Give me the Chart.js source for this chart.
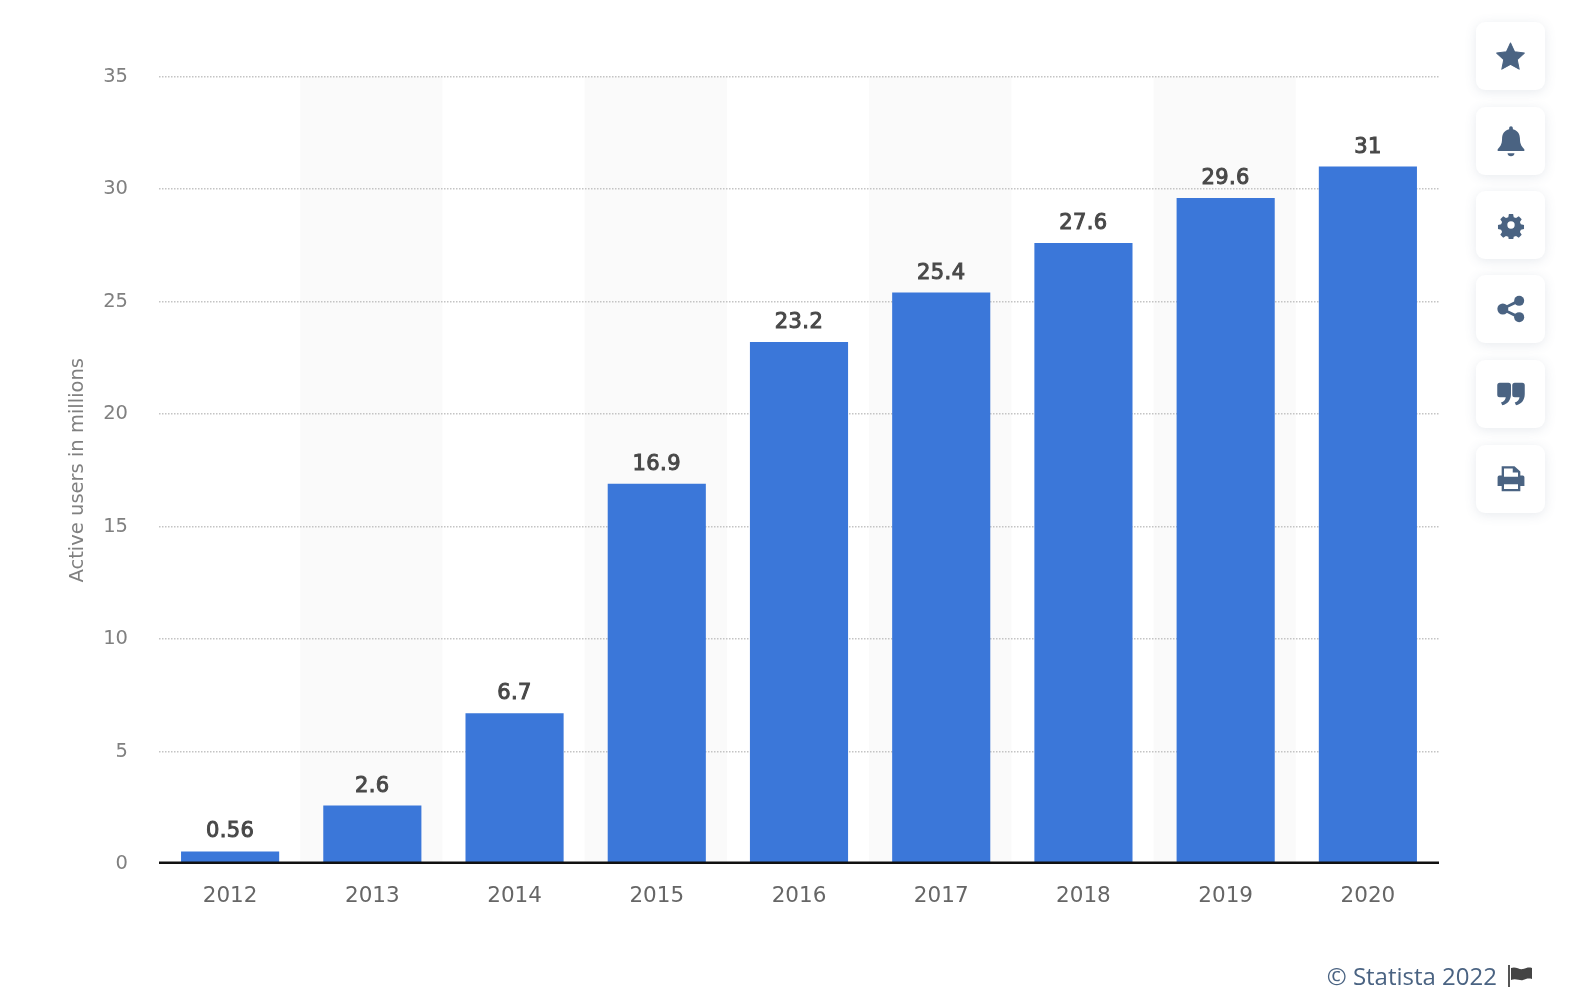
<!DOCTYPE html>
<html>
<head>
<meta charset="utf-8">
<script src="https://cdn.jsdelivr.net/npm/chart.js@4"></script>
<style>
  html, body { margin: 0; padding: 0; background: #fff; overflow: hidden; }
  #wrap { position: relative; width: 1570px; height: 1002px; }
  #chart { position: absolute; left: 0; top: 0; }
  .btn {
    position: absolute; left: 1476px; width: 69px; height: 68px;
    background: #fff; border-radius: 9px;
    box-shadow: 0 2px 12px rgba(70, 90, 120, 0.13);
    display: flex; align-items: center; justify-content: center;
  }
  .btn svg { width: 28px; height: 28px; fill: #4a6382; }
  #credit {
    position: absolute; right: 73px; top: 961px;
    font: 24px "Open Sans", sans-serif; color: #4a6382;
    line-height: 30px;
  }
  #flag { position: absolute; left: 1508px; top: 965px; width: 26px; height: 22px; }
</style>
</head>
<body>
<div id="wrap">
  <canvas id="chart" width="1570" height="1002"></canvas>

  <div class="btn" style="top:22px"><svg style="width:31px;height:31px" viewBox="0 0 24 24"><path stroke="#4a6382" stroke-width="0.8" stroke-linejoin="round" d="M12 1.5l3.2 6.9 7.5.9-5.5 5.1 1.5 7.4L12 18.1l-6.7 3.700 1.500-7.400L1.300 9.300l7.500-.9z"/></svg></div>
  <div class="btn" style="top:107px"><svg style="width:32px;height:32px" viewBox="0 0 24 24"><path d="M12 1c.8 0 1.400.6 1.400 1.400v.7c3.400.7 5.300 3.500 5.300 7 0 4.600 1.500 6 3.300 8v1.400H2v-1.400c1.800-2 3.300-3.400 3.300-8 0-3.500 1.900-6.300 5.300-7v-.7C10.600 1.600 11.200 1 12 1zM9.400 21.200h5.200c0 1.400-1.200 2.300-2.600 2.300s-2.600-.9-2.600-2.300z"/></svg></div>
  <div class="btn" style="top:191px"><svg viewBox="0 0 24 24"><path fill-rule="evenodd" d="M10 1.500h4l.6 3 2.200.9 2.600-1.700 2.800 2.800-1.700 2.600.9 2.200 3 .6v4l-3 .6-.9 2.200 1.700 2.600-2.800 2.800-2.600-1.700-2.200.9-.6 3h-4l-.6-3-2.200-.9-2.600 1.700-2.800-2.800 1.700-2.600-.9-2.200-3-.6v-4l3-.6.9-2.200-1.700-2.600 2.800-2.800 2.600 1.700 2.200-.9zM12 8.500a3.500 3.500 0 1 0 0 7 3.500 3.500 0 0 0 0-7z" transform="translate(1.200 1.200) scale(.9)"/></svg></div>
  <div class="btn" style="top:275px"><svg viewBox="0 0 24 24"><circle cx="19" cy="5" r="4.300"/><circle cx="19" cy="19" r="4.300"/><circle cx="5" cy="12" r="4.700"/><path d="M5 10.500L18 3.800l1.200 2.400L7 12l12.200 5.800-1.200 2.400L5 13.500z"/></svg></div>
  <div class="btn" style="top:360px"><svg style="width:30px;height:30px" viewBox="0 0 24 24"><path d="M3 3h7a2 2 0 0 1 2 2v7c0 4.800-2.500 8-7 9l-1-2.300c2.300-.7 3.600-2 3.800-4.200H3a2 2 0 0 1-2-2V5a2 2 0 0 1 2-2zM15 3h6a2 2 0 0 1 2 2v7c0 4.800-2.500 8-7 9l-1-2.300c2.300-.7 3.600-2 3.800-4.200H15a2 2 0 0 1-2-2V5a2 2 0 0 1 2-2z"/></svg></div>
  <div class="btn" style="top:445px"><svg viewBox="0 0 24 24"><path fill-rule="evenodd" d="M4 1h11l5 4.500V9h2a1.500 1.500 0 0 1 1.500 1.500V18H20v4.500H4V18H.5v-7.500A1.500 1.500 0 0 1 2 9h2zM6 3v7h12V6.500h-4.500V3zM6 16.500v4h12v-4z"/></svg></div>

  <div id="credit">© Statista 2022</div>
  <svg id="flag" viewBox="0 0 26 22"><rect x="0" y="0" width="2" height="22" fill="#555"/><path d="M3 3c5-2 8 2 12 1s5-2 9-1v11c-4-1-6 0-9 1s-7-2-12 0z" fill="#444"/></svg>
</div>

<script>
const years = ["2012", "2013", "2014", "2015", "2016", "2017", "2018", "2019", "2020"];
const activeUsers = [0.56, 2.6, 6.7, 16.9, 23.2, 25.4, 27.6, 29.6, 31];
const valueLabels = ["0.56", "2.6", "6.7", "16.9", "23.2", "25.4", "27.6", "29.6", "31"];

const BAR_COLOR = "#3b77d9";
const BAND_COLOR = "#fafafa";
const GRID_COLOR = "#c4c4c4";

// every second category gets a pale band behind the bars
const bandsPlugin = {
  id: "bands",
  beforeDraw(chart) {
    const { ctx, chartArea, scales } = chart;
    const half = (scales.x.getPixelForValue(1) - scales.x.getPixelForValue(0)) / 2;
    ctx.save();
    ctx.fillStyle = BAND_COLOR;
    years.forEach((year, i) => {
      if (i % 2 === 0) return;
      const x = scales.x.getPixelForValue(i);
      ctx.fillRect(x - half - 1, chartArea.top, half * 2, chartArea.bottom - chartArea.top);
    });
    ctx.restore();
  },
};

// value labels and the heavy baseline go on top of the bars
const labelsPlugin = {
  id: "valueLabels",
  afterDatasetsDraw(chart) {
    const { ctx, chartArea, scales } = chart;
    const meta = chart.getDatasetMeta(0);
    ctx.save();
    // the labels are a heavier regular cut, not the wide bold
    ctx.font = '21px "DejaVu Sans"';
    ctx.letterSpacing = "0.4px";
    ctx.fillStyle = "#484848";
    ctx.strokeStyle = "#484848";
    ctx.lineWidth = 1;
    ctx.textAlign = "center";
    ctx.textBaseline = "alphabetic";
    meta.data.forEach((bar, i) => {
      ctx.fillText(valueLabels[i], bar.x, bar.y - 14);
      ctx.strokeText(valueLabels[i], bar.x, bar.y - 14);
    });
    const y0 = scales.y.getPixelForValue(0) - 1.2;
    ctx.strokeStyle = "#111";
    ctx.lineWidth = 2.4;
    ctx.beginPath();
    ctx.moveTo(chartArea.left, y0);
    ctx.lineTo(chartArea.right, y0);
    ctx.stroke();
    ctx.restore();
  },
};

new Chart(document.getElementById("chart"), {
  type: "bar",
  data: {
    labels: years,
    datasets: [{
      data: activeUsers,
      backgroundColor: BAR_COLOR,
      barPercentage: 0.69,
      categoryPercentage: 1,
    }],
  },
  plugins: [bandsPlugin, labelsPlugin],
  options: {
    responsive: false,
    animation: false,
    layout: { padding: { top: 76.5, right: 131, bottom: 0, left: 0 } },
    plugins: { legend: { display: false }, tooltip: { enabled: false } },
    scales: {
      x: {
        afterFit(scale) { scale.height = 1002 - 864; },
        grid: { display: false },
        border: { display: false },
        ticks: { color: "#666", padding: 12, maxRotation: 0, font: { family: "DejaVu Sans", size: 21.5 } },
      },
      y: {
        min: 0,
        max: 35,
        afterFit(scale) { scale.width = 159; },
        grid: {
          color: (c) => (c.tick.value === 0 ? "transparent" : GRID_COLOR),
          lineWidth: 1.5,
          drawTicks: false,
        },
        border: { display: false, dash: [1.5, 1.5] },
        ticks: { stepSize: 5, color: "#808080", padding: 31, font: { family: "DejaVu Sans", size: 19.5 } },
        title: {
          display: true,
          text: "Active users in millions",
          color: "#808080",
          padding: { top: 66, bottom: 0 },
          font: { family: "DejaVu Sans", size: 19.5 },
        },
      },
    },
  },
});
</script>
</body>
</html>
